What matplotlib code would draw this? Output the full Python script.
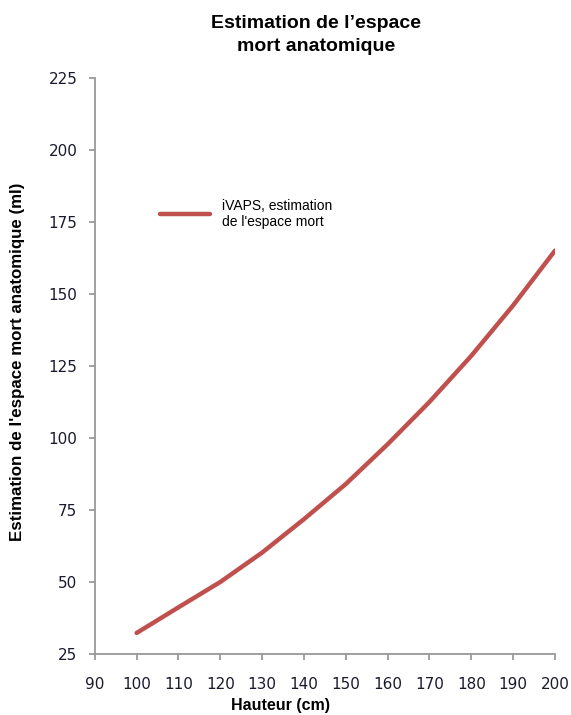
# Estimation de l'espace mort anatomique (iVAPS)

import numpy as np
import matplotlib.pyplot as plt

###### DATA ######

hauteur = [100, 110, 120, 130, 140, 150, 160, 170, 180, 190, 200]
espace_mort = [32.3, 41.2, 50.0, 60.2, 71.8, 84.0, 97.8, 112.5, 128.5, 146.0, 165.0]
serie_label = "iVAPS, estimation\nde l'espace mort"

x_ticks = np.arange(90, 201, 10)
y_ticks = np.arange(25, 226, 25)

###### PLOT ######

fig = plt.figure(figsize=(5.71, 7.15), dpi=100)
ax = fig.add_axes([0.166, 0.0853, 0.806, 0.806])

ax.plot(hauteur, espace_mort, color='#C0504D', lw=3.2, solid_capstyle='round',
        solid_joinstyle='round', label=serie_label)

ax.set_xlim(90, 200)
ax.set_ylim(25, 225)
ax.set_xticks(x_ticks)
ax.set_yticks(y_ticks)

for side in ['top', 'right']:
    ax.spines[side].set_visible(False)
for side in ['left', 'bottom']:
    ax.spines[side].set_color('#999999')
    ax.spines[side].set_linewidth(1.3)

ax.tick_params(axis='both', direction='out', length=4.5, width=1.3, color='#999999',
               labelsize=11, labelcolor='#1a1a2e')
ax.tick_params(axis='y', pad=8)
ax.tick_params(axis='x', pad=12)

ax.set_xlabel("Hauteur (cm)", family='Liberation Sans', fontweight='bold', fontsize=11.5)
ax.xaxis.set_label_coords(0.404, -0.076)
ax.set_ylabel("Estimation de l'espace mort anatomique (ml)", family='Liberation Sans',
              fontweight='bold', fontsize=12.2)
ax.yaxis.set_label_coords(-0.152, 0.507)

fig.text(0.553, 0.951, "Estimation de l\u2019espace\nmort anatomique", ha='center', va='center',
         family='Liberation Sans', fontweight='bold', fontsize=14, linespacing=1.45)

ax.legend(loc='center left', bbox_to_anchor=(0.141, 0.764), frameon=False,
          borderaxespad=0, borderpad=0,
          prop={'family': 'Liberation Sans', 'size': 10}, handlelength=3.6, handletextpad=0.86)

plt.savefig("out.png", dpi=100)
